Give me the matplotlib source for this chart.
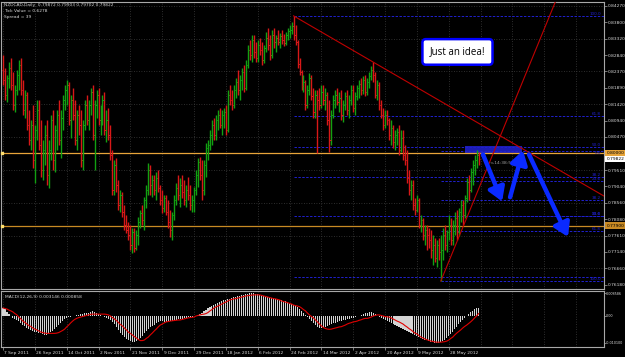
import matplotlib
matplotlib.use("Agg")
import matplotlib.pyplot as plt
import matplotlib.transforms as mtransforms
import numpy as np

# ---------------- data (prices in pips = price * 10000) ----------------
open_pips = [
    8241,8212,8169,8218,8247,8198,8140,8183,8227,8256,
    8183,8125,8169,8082,8038,8082,7980,8067,8125,8024,
    7951,8009,8053,7937,8009,8096,7980,8067,8110,8038,
    8102,8154,8183,8198,8096,8154,8110,8038,8110,8082,
    7980,8082,8140,8096,8140,8177,8053,8140,8169,8096,
    8125,8154,8067,8096,8053,7995,7893,7966,7908,7850,
    7879,7829,7792,7777,7763,7734,7771,7725,7763,7800,
    7826,7806,7864,7893,7951,7908,7922,7893,7928,7899,
    7864,7841,7870,7829,7800,7777,7821,7864,7899,7879,
    7908,7887,7864,7893,7879,7850,7864,7893,7937,7974,
    7937,7893,7966,8015,8024,8053,8082,8053,8096,8110,
    8082,8110,8119,8067,8169,8154,8140,8183,8206,8183,
    8212,8235,8189,8256,8299,8284,8328,8293,8276,8314,
    8299,8270,8305,8334,8314,8284,8343,8322,8334,8322,
    8340,8328,8319,8343,8354,8357,8369,8343,8322,8259,
    8235,8195,8206,8140,8183,8218,8166,8119,8169,8154,
    8140,8177,8154,8169,8096,8038,8110,8154,8169,8148,
    8160,8110,8140,8166,8125,8154,8183,8131,8166,8189,
    8200,8183,8212,8177,8206,8224,8241,8227,8169,8198,
    8140,8110,8082,8110,8096,8053,8073,8032,8053,8061,
    8009,8044,7995,7980,7928,7893,7908,7850,7835,7864,
    7792,7806,7763,7777,7763,7748,7719,7734,7696,7734,
    7713,7719,7763,7734,7771,7792,7748,7792,7812,7771,
    7829,7850,7821,7870,7916,7893,7945,7966,7980,7995]
high_pips = [
    8284,8247,8227,8264,8276,8235,8198,8241,8270,8276,
    8212,8183,8177,8125,8096,8140,8082,8154,8154,8096,
    8038,8082,8096,8038,8110,8125,8082,8125,8154,8125,
    8169,8198,8212,8206,8169,8189,8154,8125,8140,8125,
    8096,8154,8169,8154,8189,8198,8154,8183,8189,8140,
    8169,8177,8125,8131,8082,8009,7980,7986,7922,7893,
    7887,7850,7821,7800,7792,7783,7783,7777,7815,7835,
    7850,7873,7908,7971,7966,7937,7937,7945,7951,7908,
    7893,7879,7879,7864,7835,7829,7879,7913,7937,7928,
    7937,7922,7908,7931,7908,7879,7902,7951,7986,7989,
    7980,7980,8029,8038,8067,8096,8102,8110,8125,8131,
    8125,8131,8140,8183,8198,8183,8198,8218,8241,8227,
    8247,8256,8270,8314,8328,8343,8343,8322,8328,8334,
    8322,8314,8351,8363,8343,8357,8363,8343,8357,8348,
    8357,8345,8351,8363,8372,8380,8398,8372,8328,8276,
    8241,8227,8212,8198,8232,8227,8189,8183,8183,8189,
    8198,8198,8189,8177,8154,8125,8169,8183,8189,8177,
    8183,8154,8177,8183,8169,8198,8198,8177,8198,8212,
    8218,8224,8227,8218,8235,8253,8264,8235,8212,8206,
    8154,8131,8125,8125,8102,8096,8082,8067,8073,8082,
    8067,8067,8024,8009,7951,7922,7922,7870,7879,7870,
    7821,7812,7792,7792,7783,7777,7763,7754,7748,7754,
    7763,7783,7792,7777,7821,7812,7806,7829,7835,7841,
    7864,7864,7879,7928,7937,7957,7980,7995,8009,8003]
low_pips = [
    8198,8154,8148,8189,8183,8125,8119,8169,8183,8169,
    8110,8102,8067,8024,8009,7957,7913,8038,8009,7931,
    7922,7966,7908,7899,7980,7951,7945,8009,8024,7986,
    8067,8125,8140,8082,8044,8096,8024,8009,8053,7960,
    7951,8067,8082,8067,8110,8038,7951,8102,8082,8053,
    8082,8053,8032,8038,7980,7879,7879,7887,7835,7829,
    7815,7777,7768,7748,7719,7710,7713,7719,7734,7783,
    7792,7777,7841,7879,7879,7873,7879,7864,7887,7850,
    7826,7829,7821,7783,7757,7748,7806,7850,7864,7843,
    7870,7850,7843,7864,7835,7829,7829,7879,7902,7922,
    7864,7879,7931,7980,8009,8024,8038,8038,8067,8073,
    8053,8073,8053,8061,8140,8125,8131,8160,8169,8154,
    8183,8177,8183,8247,8270,8264,8276,8264,8264,8284,
    8256,8261,8293,8299,8270,8276,8305,8293,8314,8305,
    8316,8311,8314,8328,8334,8345,8328,8314,8247,8227,
    8183,8177,8125,8131,8169,8154,8102,8102,8000,8125,
    8131,8140,8125,8082,8003,8024,8102,8131,8140,8119,
    8096,8090,8125,8110,8102,8140,8119,8110,8154,8160,
    8169,8172,8166,8169,8189,8212,8206,8160,8154,8125,
    8102,8067,8073,8082,8038,8024,8015,8009,8024,7995,
    8003,7980,7966,7913,7879,7864,7835,7821,7829,7783,
    7771,7748,7734,7719,7725,7696,7676,7684,7670,7690,
    7629,7690,7719,7713,7748,7734,7734,7763,7748,7760,
    7800,7792,7812,7858,7864,7887,7908,7937,7957,7966]
close_pips = [
    8212,8169,8218,8247,8198,8140,8183,8227,8256,8183,
    8125,8169,8082,8038,8082,7980,8067,8125,8024,7951,
    8009,8053,7937,8009,8096,7980,8067,8110,8038,8102,
    8154,8183,8198,8096,8154,8110,8038,8110,8082,7980,
    8082,8140,8096,8140,8177,8053,8140,8169,8096,8125,
    8154,8067,8096,8053,7995,7893,7966,7908,7850,7879,
    7829,7792,7777,7763,7734,7771,7725,7763,7800,7826,
    7806,7864,7893,7951,7908,7922,7893,7928,7899,7864,
    7841,7870,7829,7800,7777,7821,7864,7899,7879,7908,
    7887,7864,7893,7879,7850,7864,7893,7937,7974,7937,
    7893,7966,8015,8024,8053,8082,8053,8096,8110,8082,
    8110,8119,8067,8169,8154,8140,8183,8206,8183,8212,
    8235,8189,8256,8299,8284,8328,8293,8276,8314,8299,
    8270,8305,8334,8314,8284,8343,8322,8334,8322,8340,
    8328,8319,8343,8354,8357,8369,8343,8322,8259,8235,
    8195,8206,8140,8183,8218,8166,8119,8169,8154,8140,
    8177,8154,8169,8096,8038,8110,8154,8169,8148,8160,
    8110,8140,8166,8125,8154,8183,8131,8166,8189,8200,
    8183,8212,8177,8206,8224,8241,8227,8169,8198,8140,
    8110,8082,8110,8096,8053,8073,8032,8053,8061,8009,
    8044,7995,7980,7928,7893,7908,7850,7835,7864,7792,
    7806,7763,7777,7763,7748,7719,7734,7696,7734,7713,
    7719,7763,7734,7771,7792,7748,7792,7812,7771,7829,
    7850,7821,7870,7916,7893,7945,7966,7980,7995,7982]

# MACD(12,26,9) main (histogram) and signal, in units of 1e-4
macd_main_e4 = [
    30,26,15,7,0,-7,-11,-15,-19,-26,
    -34,-37,-45,-49,-52,-56,-60,-60,-64,-64,
    -67,-71,-71,-67,-60,-56,-49,-41,-34,-26,
    -19,-11,-7,-4,-4,0,0,4,4,7,
    7,11,11,11,15,19,15,11,7,4,
    0,-4,-7,-11,-15,-22,-30,-41,-52,-64,
    -71,-79,-86,-90,-94,-97,-97,-94,-90,-82,
    -75,-64,-56,-49,-41,-37,-34,-26,-22,-19,
    -19,-22,-22,-22,-19,-19,-15,-15,-11,-11,
    -11,-7,-7,-4,-4,-4,0,0,4,7,
    11,19,22,30,34,37,41,45,49,52,
    56,60,60,64,64,67,71,71,75,75,
    79,79,82,82,86,86,86,82,82,79,
    79,75,75,71,71,67,67,64,64,60,
    60,56,56,52,49,45,41,37,34,26,
    19,11,4,-4,-11,-19,-26,-34,-41,-45,
    -45,-41,-41,-37,-34,-30,-26,-26,-22,-19,
    -19,-15,-15,-11,-11,-7,-7,-4,0,0,
    4,7,11,11,15,15,11,7,0,-4,
    -7,-11,-15,-19,-22,-26,-30,-34,-37,-41,
    -45,-49,-52,-56,-60,-64,-67,-71,-75,-79,
    -82,-86,-90,-90,-94,-97,-97,-101,-101,-101,
    -97,-94,-90,-82,-75,-67,-60,-49,-41,-30,
    -22,-15,-7,0,7,15,19,26,30,31]
macd_signal_e4 = [
    30,28,26,22,19,15,9,4,-4,-11,
    -19,-24,-30,-36,-39,-45,-49,-52,-56,-60,
    -62,-64,-65,-65,-65,-65,-65,-64,-62,-58,
    -54,-49,-41,-34,-26,-19,-13,-9,-6,-4,
    -2,0,2,4,6,7,7,7,7,7,
    7,7,6,4,0,-6,-11,-17,-24,-32,
    -37,-45,-52,-60,-65,-71,-77,-82,-88,-92,
    -92,-90,-84,-79,-71,-64,-56,-49,-41,-34,
    -30,-26,-22,-21,-19,-18,-17,-16,-15,-15,
    -13,-11,-9,-7,-6,-5,-4,0,2,4,
    6,7,9,13,19,24,30,34,37,41,
    45,49,52,56,60,62,64,65,67,69,
    71,73,75,76,77,78,79,79,79,79,
    77,75,73,71,69,67,65,64,62,60,
    56,54,52,50,47,45,41,39,37,35,
    30,24,19,11,4,-2,-7,-15,-22,-30,
    -37,-43,-47,-49,-50,-49,-47,-45,-43,-41,
    -40,-37,-34,-30,-27,-25,-22,-21,-19,-16,
    -14,-11,-9,-9,-7,-4,0,2,4,4,
    2,0,-2,-3,-4,-7,-11,-15,-19,-22,
    -26,-30,-36,-41,-47,-52,-58,-64,-67,-73,
    -79,-82,-86,-89,-91,-94,-95,-97,-98,-98,
    -98,-97,-96,-94,-90,-84,-79,-71,-64,-58,
    -52,-45,-39,-34,-28,-22,-15,-7,0,9]

date_labels = ["7 Sep 2011", "26 Sep 2011", "14 Oct 2011", "2 Nov 2011", "21 Nov 2011",
               "9 Dec 2011", "29 Dec 2011", "18 Jan 2012", "6 Feb 2012", "24 Feb 2012",
               "14 Mar 2012", "2 Apr 2012", "20 Apr 2012", "9 May 2012", "28 May 2012"]
date_label_bars = [0, 16, 32, 48, 64, 80, 96, 112, 128, 144, 160, 176, 192, 208, 224]

price_ticks = [0.84270, 0.83800, 0.83320, 0.82840, 0.82370, 0.81890, 0.81420, 0.80940,
               0.80470, 0.79510, 0.79040, 0.78560, 0.78080, 0.77610, 0.77140, 0.76660, 0.76180]
grid_prices = [0.84270, 0.83320, 0.82370, 0.81420, 0.80470, 0.79510, 0.78560, 0.77610, 0.76660]

level_lines = [0.80000, 0.77900]          # horizontal orange lines
level_labels = ["0.80000", "0.77900"]
bid_price = 0.79822

fib1_bar, fib1_high, fib1_low = 146, 0.8398, 0.7640
fib2_bar, fib2_low, fib2_high = 220, 0.7629, 0.8007
fib_levels = [0.0, 23.6, 38.2, 50.0, 61.8, 100.0]

trend1 = [(146, 0.8398), (186, 0.8264)]
trend2 = [(220, 0.7629), (250, 0.8051)]

arrows = [((241.2, 0.7996), (250.8, 0.7860)),
          ((254.8, 0.7872), (261.3, 0.8008)),
          ((264.3, 0.7996), (283.9, 0.7757))]
zone = (232.0, 260.8, 0.8000, 0.8020)

macd_ticks = [0.008586, 0.0, -0.0101]
macd_tick_labels = ["0.008586", "0.00", "-0.010100"]
macd_title = "MACD(12,26,9) 0.003146 0.000858"
info_lines = ["NZDCAD,Daily  0.79872 0.79903 0.79702 0.79822", "Tick Value = 0.6278", "Spread = 39"]
note_text = "Just an idea!"
timer_text = "<-14:38:57"

# ---------------- figure ----------------
W, H = 625, 357
fig = plt.figure(figsize=(W / 100, H / 100), dpi=100, facecolor="black")

def fx(px):
    return px / W

def fy(py):
    return 1 - py / H

ax = fig.add_axes([fx(1), fy(289), fx(604) - fx(1), fy(2) - fy(289)], facecolor="black")
axm = fig.add_axes([fx(1), fy(347), fx(604) - fx(1), fy(291) - fy(347)], facecolor="black")

XMIN, XMAX = -1.0, 302.0
TXT = "#D8D8D8"
SP = "#A8A8A8"
FS = 3.2

o = np.array(open_pips) / 1e4
h = np.array(high_pips) / 1e4
l = np.array(low_pips) / 1e4
c = np.array(close_pips) / 1e4
idx = np.arange(len(c))
bull, bear = "#12A012", "#D81818"
cols = [bull if cc >= oo else bear for oo, cc in zip(o, c)]

# grid
gstyle = dict(color="#3C3C3C", lw=0.6, ls=(0, (1, 2)), zorder=0)
for b in range(0, 300, 16):
    ax.axvline(b, **gstyle)
    axm.axvline(b, **gstyle)
for p in grid_prices:
    ax.axhline(p, **gstyle)

# blue zone
ax.add_patch(plt.Rectangle((zone[0], zone[2]), zone[1] - zone[0], zone[3] - zone[2],
                           facecolor="#1C1CB4", edgecolor="none", zorder=1))

# fib levels
fibc = "#2020D0"
for lv in fib_levels:
    p1 = fib1_low + lv / 100 * (fib1_high - fib1_low)
    ax.plot([fib1_bar, XMAX], [p1, p1], color=fibc, lw=0.7, ls=(0, (2.5, 1.5)), zorder=2)
    if lv > 0:
        ax.text(300.5, p1, f"{lv:.1f}", color=fibc, fontsize=3.0, ha="right", va="bottom", zorder=3)
    p2 = fib2_high - lv / 100 * (fib2_high - fib2_low)
    ax.plot([fib2_bar, XMAX], [p2, p2], color=fibc, lw=0.7, ls=(0, (2.5, 1.5)), zorder=2)
    ax.text(300.5, p2, f"{lv:.1f}", color=fibc, fontsize=3.0, ha="right",
            va="top" if lv == 0 else "bottom", zorder=3)

# horizontal orange lines
ocol = ["#E8A53A", "#C88A24"]
for p, cc in zip(level_lines, ocol):
    ax.axhline(p, color=cc, lw=0.9, zorder=2)
    ax.plot([-0.4], [p], marker="s", ms=2.0, color="#FFE070", zorder=4, clip_on=False)

# price bars
ax.vlines(idx, l, h, colors=cols, lw=1.0, zorder=5)
ax.hlines(o, idx - 0.6, idx, colors=cols, lw=0.7, zorder=5)
ax.hlines(c, idx, idx + 0.6, colors=cols, lw=0.7, zorder=5)

# trend lines
for (x0, y0), (x1, y1) in (trend1, trend2):
    s = (y1 - y0) / (x1 - x0)
    ax.plot([x0, XMAX], [y0, y0 + s * (XMAX - x0)], color="#C00000", lw=0.8, zorder=6)

# arrows
for start, end in arrows:
    ax.annotate("", xy=end, xytext=start,
                arrowprops=dict(arrowstyle="-|>,head_length=0.8,head_width=0.5",
                                lw=3.2, color="#0A2AFF", shrinkA=0, shrinkB=0),
                zorder=7)

# timer text
ax.text(244.5, 0.7972, timer_text, color="#A0A0A0", fontsize=FS, va="center", ha="left", zorder=6)

# note box
ax.text(0.757, 0.826, note_text, transform=ax.transAxes, fontsize=7.0, family="Open Sans",
        color="black", ha="center", va="center", zorder=9,
        bbox=dict(boxstyle="round,pad=0.75,rounding_size=0.35", fc="white", ec="#0000FF", lw=1.8))

ax.set_xlim(XMIN, XMAX)
ax.set_ylim(0.84440 - 0.00029 * 289, 0.84440 - 0.00029 * 2)
ax.yaxis.tick_right()
ax.set_yticks(price_ticks)
ax.set_yticklabels([f"{p:.5f}" for p in price_ticks])
ax.tick_params(axis="y", direction="out", length=2, width=0.5, colors=SP, labelcolor=TXT,
               labelsize=FS, pad=1)
ax.tick_params(axis="x", length=0, labelbottom=False)
for sp in ax.spines.values():
    sp.set_color(SP)
    sp.set_linewidth(0.8)

# right-side price boxes
trans = mtransforms.blended_transform_factory(ax.transAxes, ax.transData)
for p, lab, cc in zip(level_lines, level_labels, ocol):
    ax.text(1.004, p, lab, transform=trans, fontsize=FS, color="black", ha="left", va="center",
            clip_on=False, zorder=10, bbox=dict(boxstyle="square,pad=0.25", fc=cc, ec="none"))
ax.text(1.004, bid_price, f"{bid_price:.5f}", transform=trans, fontsize=FS, color="black",
        ha="left", va="center", clip_on=False, zorder=10,
        bbox=dict(boxstyle="square,pad=0.25", fc="white", ec="none"))

# info text
for k, t in enumerate(info_lines):
    fig.text(fx(4), fy(5 + 6 * k), t, color=TXT, fontsize=FS, ha="left", va="center")

# ---------------- MACD panel ----------------
mm = np.array(macd_main_e4) * 1e-4
ms = np.array(macd_signal_e4) * 1e-4
axm.bar(idx, mm, width=0.55, color="#D4D4D4", linewidth=0, zorder=3)
axm.plot(idx, ms, color="#E00000", lw=0.8, zorder=4)
axm.set_xlim(XMIN, XMAX)
axm.set_ylim(-0.0116, 0.00935)
axm.yaxis.tick_right()
axm.set_yticks(macd_ticks)
axm.set_yticklabels(macd_tick_labels)
axm.tick_params(axis="y", direction="out", length=1.2, width=0.5, colors=SP, labelcolor=TXT,
                labelsize=2.4, pad=0.4)
axm.set_xticks(date_label_bars)
axm.set_xticklabels(date_labels, ha="left")
axm.tick_params(axis="x", direction="out", length=2, width=0.5, colors=SP, labelcolor=TXT,
                labelsize=FS, pad=1)
off = mtransforms.ScaledTranslation(1.5 / 100, 0, fig.dpi_scale_trans)
for lbl in axm.get_xticklabels():
    lbl.set_transform(lbl.get_transform() + off)
for sp in axm.spines.values():
    sp.set_color(SP)
    sp.set_linewidth(0.8)
axm.text(0.006, 0.9, macd_title, transform=axm.transAxes, color=TXT, fontsize=FS,
         ha="left", va="center")

fig.savefig("out.png", dpi=100, facecolor="black")
